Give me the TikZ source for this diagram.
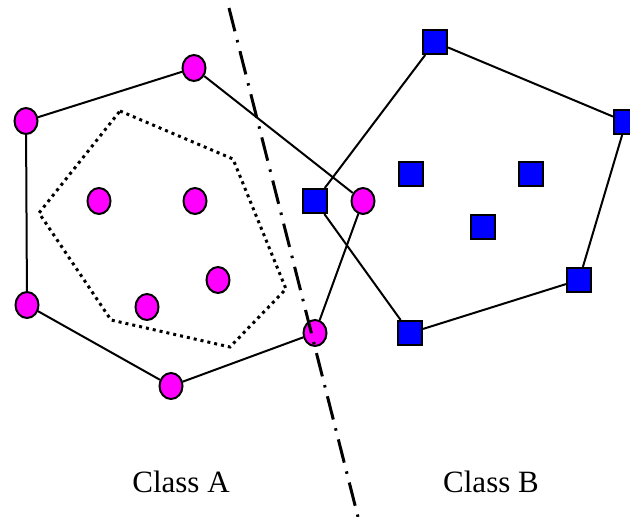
\documentclass[tikz,border=0pt]{standalone}
\usepackage{fontspec}
\setmainfont{Liberation Serif}
\usetikzlibrary{shapes.geometric}
\definecolor{ptpink}{RGB}{255,0,255}
\definecolor{ptblue}{RGB}{0,0,255}
\tikzset{
  ptA/.style={ellipse,draw,line width=2pt,fill=ptpink,minimum width=23pt,minimum height=26pt,inner sep=0pt},
  ptB/.style={rectangle,draw,line width=2pt,fill=ptblue,minimum size=24pt,inner sep=0pt},
  hull/.style={line width=2pt},
  inner/.style={line width=3pt,dash pattern=on 3pt off 4pt},
  border/.style={line width=3pt,dash pattern=on 24pt off 9pt on 2.5pt off 9pt},
  lbl/.style={font=\fontsize{31}{36}\selectfont}
}
\begin{document}
\begin{tikzpicture}[x=1pt,y=-1pt]
		\useasboundingbox (0,0) rectangle (630,517);
		% inner (dotted) hull of class A
		\coordinate (D_1) at (120,111);
		\coordinate (D_2) at (233,159);
		\coordinate (D_3) at (286,289);
		\coordinate (D_4) at (230,347);
		\coordinate (D_5) at (111,320);
		\coordinate (D_6) at (39,213);
		\draw [inner] (D_1)--(D_2)--(D_3)--(D_4)--(D_5)--(D_6)--cycle;
		% class A
		\node [ptA] (A_1) at (194,68) {};
		\node [ptA] (A_2) at (26,121) {};
		\node [ptA] (A_3) at (27,305) {};
		\node [ptA] (A_4) at (171,386) {};
		\node [ptA] (A_5) at (315,333) {};
		\node [ptA] (A_6) at (363,201) {};
		\node [ptA] (A_7) at (99,201) {};
		\node [ptA] (A_8) at (195,201) {};
		\node [ptA] (A_9) at (218,280) {};
		\node [ptA] (A_10) at (147,307) {};
		% class B
		\node [ptB] (B_1) at (435,42) {};
		\node [ptB] (B_2) at (626,122) {};
		\node [ptB] (B_3) at (579,280) {};
		\node [ptB] (B_4) at (410,333) {};
		\node [ptB] (B_5) at (315,201) {};
		\node [ptB] (B_6) at (411,174) {};
		\node [ptB] (B_7) at (531,174) {};
		\node [ptB] (B_8) at (483,227) {};
		\draw [hull] (A_1)--(A_6)--(A_5)--(A_4)--(A_3)--(A_2)--(A_1);
		\draw [hull] (B_1)--(B_2)--(B_3)--(B_4)--(B_5)--(B_1);
		% separating line
		\coordinate (S_1) at (229,8);
		\coordinate (S_2) at (358,517);
		\draw [border] (S_1)--(S_2);
		\node [lbl] (LA) at (181,482) {Class A};
		\node [lbl] (LB) at (491,482) {Class B};
\end{tikzpicture}
\end{document}
